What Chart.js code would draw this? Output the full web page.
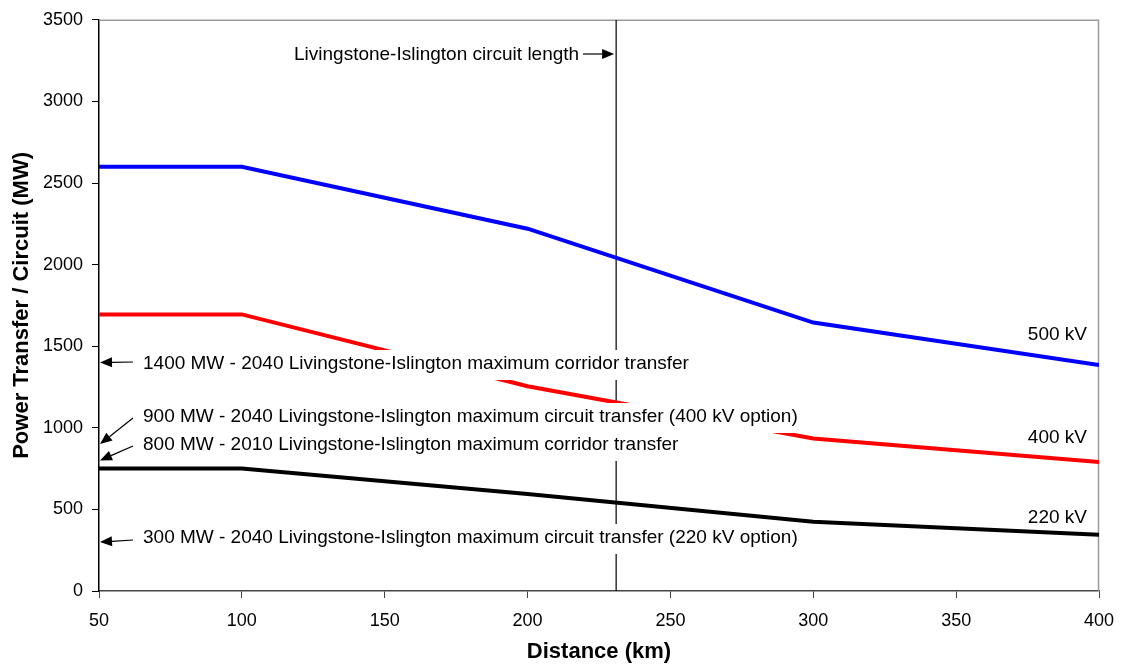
<!DOCTYPE html>
<html>
<head>
<meta charset="utf-8">
<script src="https://cdn.jsdelivr.net/npm/chart.js@4.4.1/dist/chart.umd.min.js"></script>
<style>
  html, body { margin: 0; padding: 0; background: #fff; }
  #wrap { width: 1131px; height: 666px; position: relative; }
</style>
</head>
<body>
<div id="wrap"><canvas id="c"></canvas></div>
<script>
// ---- data ----
const distances = [50, 75, 100, 200, 300, 400];
const kv500 = [2600, 2600, 2600, 2220, 1645, 1385];
const kv400 = [1695, 1695, 1695, 1255, 935, 790];
const kv220 = [750, 750, 750, 595, 425, 345];
const seriesNames = ["500 kV", "400 kV", "220 kV"];
const circuitLengthKm = 231;
const circuitLabel = "Livingstone-Islington circuit length";
const limitValues = [1400, 900, 800, 300];
const limitLabels = [
  "1400 MW - 2040 Livingstone-Islington maximum corridor transfer",
  "900 MW - 2040 Livingstone-Islington maximum circuit transfer (400 kV option)",
  "800 MW - 2010 Livingstone-Islington maximum corridor transfer",
  "300 MW - 2040 Livingstone-Islington maximum circuit transfer (220 kV option)"
];
const xMin = 50, xMax = 400, xStep = 50;
const yMin = 0, yMax = 3500, yStep = 500;
const xTitle = "Distance (km)";
const yTitle = "Power Transfer / Circuit (MW)";

const pts = (xs, ys) => xs.map((x, i) => ({ x: x, y: ys[i] }));

const FONT = '"Liberation Sans", Arial, sans-serif';

// pixel layout of annotation text (styling only)
const limitLayout = [
  { tx: 143, ty: 369, sx: 133, sy: 362 },
  { tx: 143, ty: 422, sx: 133, sy: 418 },
  { tx: 143, ty: 450, sx: 133, sy: 446 },
  { tx: 143, ty: 543, sx: 133, sy: 540 }
];
const seriesLabelLayout = [
  { x: 1087, y: 340 },
  { x: 1087, y: 443 },
  { x: 1087, y: 523 }
];

function drawArrow(ctx, x1, y1, x2, y2) {
  const ang = Math.atan2(y2 - y1, x2 - x1);
  const head = 12, hw = 5;
  const bx = x2 - head * Math.cos(ang), by = y2 - head * Math.sin(ang);
  ctx.beginPath();
  ctx.moveTo(x1, y1);
  ctx.lineTo(bx, by);
  ctx.lineWidth = 1.2;
  ctx.strokeStyle = '#000';
  ctx.stroke();
  ctx.beginPath();
  ctx.moveTo(x2, y2);
  ctx.lineTo(bx + hw * Math.sin(ang), by - hw * Math.cos(ang));
  ctx.lineTo(bx - hw * Math.sin(ang), by + hw * Math.cos(ang));
  ctx.closePath();
  ctx.fillStyle = '#000';
  ctx.fill();
}

const annotPlugin = {
  id: 'annot',
  beforeDatasetsDraw(chart) {
    const ctx = chart.ctx, a = chart.chartArea;
    ctx.save();
    ctx.strokeStyle = '#9a9a9a';
    ctx.lineWidth = 1.5;
    ctx.beginPath();
    ctx.moveTo(a.left, a.top + 0.5);
    ctx.lineTo(a.right - 0.5, a.top + 0.5);
    ctx.lineTo(a.right - 0.5, a.bottom);
    ctx.stroke();
    ctx.restore();
  },
  afterDatasetsDraw(chart) {
    const ctx = chart.ctx;
    const xs = chart.scales.x, ys = chart.scales.y;
    ctx.save();
    ctx.font = '19px ' + FONT;
    ctx.textBaseline = 'alphabetic';
    ctx.textAlign = 'left';
    // white boxes
    ctx.fillStyle = '#fff';
    limitLabels.forEach((t, i) => {
      const L = limitLayout[i];
      const w = ctx.measureText(t).width;
      ctx.fillRect(L.tx - 3, L.ty - 19, w + 6, 30);
    });
    // texts
    ctx.fillStyle = '#000';
    limitLabels.forEach((t, i) => {
      const L = limitLayout[i];
      ctx.fillText(t, L.tx, L.ty);
    });
    // arrows to y axis
    limitValues.forEach((v, i) => {
      const L = limitLayout[i];
      drawArrow(ctx, L.sx, L.sy, xs.getPixelForValue(xMin) + 1, ys.getPixelForValue(v));
    });
    // circuit length label
    ctx.fillStyle = '#000';
    ctx.fillText(circuitLabel, 294, 60);
    const vx = xs.getPixelForValue(circuitLengthKm);
    drawArrow(ctx, 583, 54, vx - 2, 54);
    // series labels
    ctx.textAlign = 'right';
    seriesNames.forEach((n, i) => {
      const L = seriesLabelLayout[i];
      ctx.fillText(n, L.x, L.y);
    });
    ctx.restore();
  }
};

new Chart(document.getElementById('c'), {
  type: 'line',
  data: {
    datasets: [
      { label: seriesNames[0], data: pts(distances, kv500), borderColor: '#0000ff', borderWidth: 4, pointRadius: 0, tension: 0 },
      { label: seriesNames[1], data: pts(distances, kv400), borderColor: '#ff0000', borderWidth: 4, pointRadius: 0, tension: 0 },
      { label: seriesNames[2], data: pts(distances, kv220), borderColor: '#000000', borderWidth: 4, pointRadius: 0, tension: 0 },
      { label: circuitLabel, data: [{ x: circuitLengthKm, y: yMin }, { x: circuitLengthKm, y: yMax }], borderColor: '#000000', borderWidth: 1.2, pointRadius: 0 }
    ]
  },
  options: {
    responsive: true,
    maintainAspectRatio: false,
    animation: false,
    events: [],
    layout: { padding: { left: 0, right: 32, top: 18, bottom: 0 } },
    plugins: { legend: { display: false }, tooltip: { enabled: false } },
    scales: {
      x: {
        type: 'linear',
        min: xMin, max: xMax,
        ticks: { stepSize: xStep, color: '#000', font: { family: FONT, size: 18 }, padding: 12, maxRotation: 0,
                 callback: (v) => String(v) },
        grid: { drawOnChartArea: false, drawTicks: true, tickLength: 7, color: '#444' },
        border: { display: true, color: '#444', width: 1.5 },
        title: { display: true, text: xTitle, color: '#000', font: { family: FONT, size: 22, weight: 'bold' }, padding: { top: 0, bottom: 1 } },
        afterFit(axis) { axis.height = 75; }
      },
      y: {
        type: 'linear',
        min: yMin, max: yMax,
        ticks: { stepSize: yStep, color: '#000', font: { family: FONT, size: 18 }, padding: 9,
                 callback: (v) => String(v) },
        grid: { drawOnChartArea: false, drawTicks: true, tickLength: 7, color: '#000' },
        border: { display: true, color: '#000', width: 1.5 },
        title: { display: true, text: yTitle, color: '#000', font: { family: FONT, size: 22, weight: 'bold' }, padding: { top: 9, bottom: 0 } },
        afterFit(axis) { axis.width = 99; }
      }
    }
  },
  plugins: [annotPlugin]
});
</script>
</body>
</html>
